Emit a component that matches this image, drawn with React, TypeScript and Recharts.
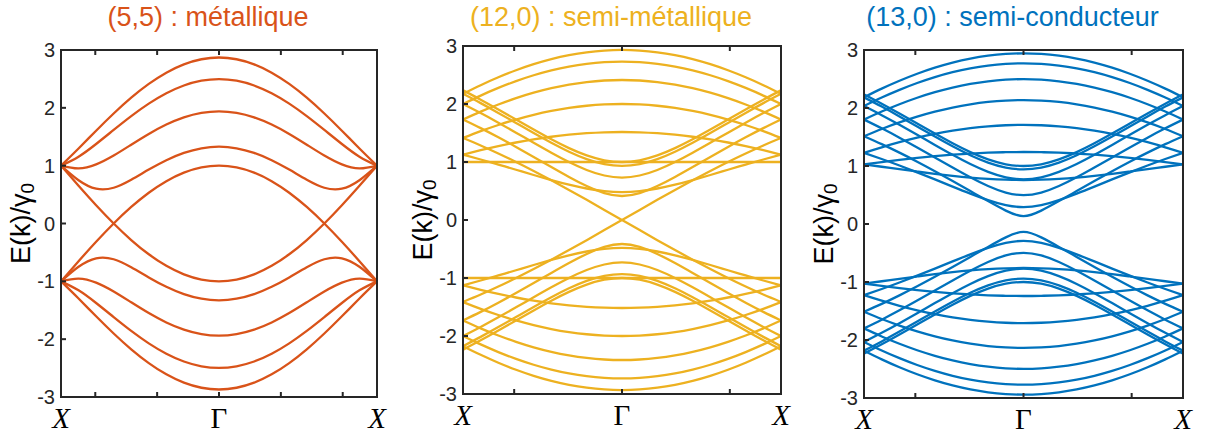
import { LineChart, Line, XAxis, YAxis } from 'recharts';

// k sampled from Γ (0) to the zone edge X, in 1/Å
const kArmchair = [0, 0.1419, 0.2838, 0.4257, 0.5676, 0.7095, 0.8514, 0.9933, 1.1352, 1.2771];
const kZigzag = [0, 0.0819, 0.1638, 0.2458, 0.3277, 0.4096, 0.4915, 0.5734, 0.6554, 0.7373];

const armchairTicks = [-1, -0.5, 0, 0.5, 1];
const zigzagTicks = [-0.5, 0, 0.5];
const energyTicks = [-3, -2, -1, 0, 1, 2, 3];

const edgeLabel = 'X';
const centerLabel = 'Γ';

// (5,5) conduction bands E/γ0, Γ -> X (valence bands are the mirror image)
const bands55 = [
  [2.8699, 2.8401, 2.7519, 2.6082, 2.4137, 2.1755, 1.9021, 1.6046, 1.2971, 1],
  [2.4972, 2.4691, 2.3862, 2.2518, 2.0722, 1.8567, 1.618, 1.375, 1.1555, 1],
  [1.9401, 1.9136, 1.8359, 1.7116, 1.5493, 1.3631, 1.1756, 1.0224, 0.9518, 1],
  [1.3281, 1.3009, 1.2211, 1.0943, 0.9318, 0.7566, 0.618, 0.601, 0.7475, 1],
  [-1, -0.9696, -0.8794, -0.732, -0.532, -0.2856, 0, 0.316, 0.6528, 1],
];

// (12,0)
const bands120 = [
  [2.9318, 2.9218, 2.8918, 2.8422, 2.7734, 2.6862, 2.5815, 2.4604, 2.3244, 2.1753],
  [2.7321, 2.7224, 2.6935, 2.6458, 2.5794, 2.4953, 2.3942, 2.277, 2.1451, 2],
  [2.4142, 2.4053, 2.3786, 2.3344, 2.273, 2.195, 2.101, 1.9918, 1.8684, 1.7321],
  [2, 1.9924, 1.9696, 1.9319, 1.8794, 1.8126, 1.7321, 1.6383, 1.5321, 1.4142],
  [1.5176, 1.5125, 1.4969, 1.4712, 1.4356, 1.3905, 1.3362, 1.2736, 1.2032, 1.126],
  [1, 1, 1, 1, 1, 1, 1, 1, 1, 1],
  [0.4823, 0.4983, 0.5431, 0.6093, 0.6891, 0.7761, 0.8662, 0.9559, 1.0432, 1.126],
  [0, 0.1743, 0.3473, 0.5176, 0.684, 0.8452, 1, 1.1472, 1.2856, 1.4142],
  [0.4142, 0.4632, 0.585, 0.742, 0.9129, 1.0872, 1.2593, 1.4257, 1.584, 1.7321],
  [0.7321, 0.7672, 0.863, 1, 1.1604, 1.3317, 1.506, 1.6779, 1.8435, 2],
  [0.9319, 0.9629, 1.0495, 1.1773, 1.3314, 1.4995, 1.6734, 1.8468, 2.0153, 2.1753],
  [1, 1.03, 1.1141, 1.2394, 1.3914, 1.5585, 1.7321, 1.9058, 2.075, 2.2361],
];
// band that changes sign through Γ (the crossing at E = 0)
const odd120 = [7];

// (13,0)
const bands130 = [
  [2.9419, 2.9318, 2.9018, 2.8521, 2.7832, 2.6958, 2.5909, 2.4697, 2.3335, 2.1842],
  [2.7709, 2.7612, 2.7321, 2.6839, 2.6171, 2.5324, 2.4305, 2.3125, 2.1797, 2.0338],
  [2.497, 2.4879, 2.4606, 2.4154, 2.3526, 2.2728, 2.1767, 2.0652, 1.9393, 1.8003],
  [2.1361, 2.128, 2.1038, 2.0636, 2.0078, 1.9368, 1.8512, 1.7516, 1.6387, 1.5135],
  [1.7092, 1.7029, 1.684, 1.6527, 1.6092, 1.5539, 1.4874, 1.41, 1.3226, 1.226],
  [1.2411, 1.2381, 1.2293, 1.2148, 1.1948, 1.1697, 1.1398, 1.1059, 1.0686, 1.0286],
  [0.7589, 0.7637, 0.7778, 0.8003, 0.8299, 0.8649, 0.9039, 0.9451, 0.9871, 1.0286],
  [0.2909, 0.3257, 0.4124, 0.524, 0.6453, 0.769, 0.891, 1.0089, 1.121, 1.226],
  [0.1364, 0.2304, 0.3945, 0.5683, 0.7418, 0.9112, 1.0746, 1.2303, 1.377, 1.5135],
  [0.4971, 0.5409, 0.654, 0.8051, 0.9735, 1.1474, 1.3206, 1.489, 1.6496, 1.8003],
  [0.771, 0.8051, 0.8989, 1.0339, 1.1929, 1.3637, 1.5379, 1.7102, 1.8765, 2.0338],
  [0.9419, 0.9727, 1.0589, 1.1863, 1.34, 1.5081, 1.682, 1.8554, 2.024, 2.1842],
  [1, 1.03, 1.1141, 1.2394, 1.3914, 1.5585, 1.7321, 1.9058, 2.075, 2.2361],
];

const SANS = '"Liberation Sans", Arial, Helvetica, sans-serif';
const SERIF = '"Liberation Serif", "Times New Roman", serif';
const FRAME = '#262626';
const TICK_LEN = 5;
const GAP = 6;
const YW = 60;
const XH = 45;
const EDGE = 4;
const PAD_TOP = 16;
const PAD_RIGHT = 24;

type Row = Record<string, number>;

// full zone X -> Γ -> X, plus the mirrored valence bands
function buildRows(k: number[], bands: number[][], odd: number[] = []): Row[] {
  const n = k.length;
  const rows: Row[] = [];
  for (let s = -(n - 1); s <= n - 1; s++) {
    const j = Math.abs(s);
    const row: Row = { k: s < 0 ? -k[j] : k[j] };
    bands.forEach((b, i) => {
      const v = s < 0 && odd.includes(i) ? -b[j] : b[j];
      row[`c${i}`] = v;
      row[`v${i}`] = -v;
    });
    rows.push(row);
  }
  return rows;
}

function BottomTick(props: any) {
  const { x, y, payload, kmax } = props;
  const v = payload.value;
  const axisY = y - GAP;
  const edge = Math.abs(Math.abs(v) - kmax) < 1e-9;
  const label = edge ? edgeLabel : v === 0 ? centerLabel : '';
  return (
    <g>
      {!edge && <line x1={x} x2={x} y1={axisY} y2={axisY - TICK_LEN} stroke={FRAME} strokeWidth={2} />}
      {label && (
        <text x={x} y={axisY + 31} textAnchor="middle" fontFamily={SERIF} fontSize={29}
          fontStyle={edge ? 'italic' : 'normal'} fill="#000">
          {label}
        </text>
      )}
    </g>
  );
}

function TopTick(props: any) {
  const { x, y } = props;
  const axisY = y + GAP;
  return <line x1={x} x2={x} y1={axisY} y2={axisY + TICK_LEN} stroke={FRAME} strokeWidth={2} />;
}

function LeftTick(props: any) {
  const { x, y, payload } = props;
  const axisX = x + GAP;
  return (
    <g>
      <line x1={axisX} x2={axisX + TICK_LEN} y1={y} y2={y} stroke={FRAME} strokeWidth={2} />
      <text x={x} y={y} textAnchor="end" dominantBaseline="central" fontFamily={SANS} fontSize={20} fill="#262626">
        {payload.value}
      </text>
    </g>
  );
}

function RightTick(props: any) {
  const { x, y } = props;
  const axisX = x - GAP;
  return <line x1={axisX} x2={axisX - TICK_LEN} y1={y} y2={y} stroke={FRAME} strokeWidth={2} />;
}

interface PanelProps {
  title: string;
  color: string;
  k: number[];
  bands: number[][];
  odd?: number[];
  ticks: number[];
  left: number;
  top: number;
  width: number;
  height: number;
}

const axisStyle = { stroke: FRAME, strokeWidth: 2, strokeLinecap: 'square' as const };

function Panel({ title, color, k, bands, odd = [], ticks, left, top, width, height }: PanelProps) {
  const kmax = k[k.length - 1];
  const rows = buildRows(k, bands, odd);
  const xTicks = [-kmax, ...ticks, kmax];
  const labelX = YW - 40;
  const labelY = PAD_TOP + EDGE + height / 2;

  return (
    <>
      <div
        style={{
          position: 'absolute', left: left - 211, width: width + 400, top: 4,
          textAlign: 'center', fontFamily: SANS, fontSize: 27, lineHeight: '27px', color,
        }}
      >
        {title}
      </div>
      <div style={{ position: 'absolute', left: left - YW, top: top - EDGE - PAD_TOP }}>
        <LineChart width={YW + width + EDGE + PAD_RIGHT} height={PAD_TOP + EDGE + height + XH} data={rows}
          margin={{ top: PAD_TOP, right: PAD_RIGHT, bottom: 0, left: 0 }}>
          <XAxis type="number" dataKey="k" domain={[-kmax, kmax]} ticks={xTicks} interval={0}
            height={XH} tickSize={0} tickMargin={GAP} tickLine={false} axisLine={axisStyle}
            tick={(p: any) => <BottomTick {...p} kmax={kmax} />} />
          <XAxis xAxisId="top" orientation="top" type="number" dataKey="k" domain={[-kmax, kmax]}
            ticks={ticks} interval={0} height={EDGE} tickSize={0} tickMargin={GAP} tickLine={false}
            axisLine={axisStyle} tick={(p: any) => <TopTick {...p} />} />
          <YAxis type="number" domain={[-3, 3]} ticks={energyTicks} interval={0} width={YW}
            tickSize={0} tickMargin={GAP} tickLine={false} axisLine={axisStyle}
            tick={(p: any) => <LeftTick {...p} />}
            label={{
              content: () => (
                <text x={labelX} y={labelY} transform={`rotate(-90 ${labelX} ${labelY})`}
                  textAnchor="middle" dominantBaseline="central" fontFamily={SANS} fontSize={27} fill="#000">
                  E(k)/γ<tspan fontSize={19} dy={6}>0</tspan>
                </text>
              ),
            }} />
          <YAxis yAxisId="right" orientation="right" type="number" domain={[-3, 3]} ticks={energyTicks}
            interval={0} width={EDGE} tickSize={0} tickMargin={GAP} tickLine={false} axisLine={axisStyle}
            tick={(p: any) => <RightTick {...p} />} />
          {bands.map((_, i) => (
            <Line key={`c${i}`} type="natural" dataKey={`c${i}`} stroke={color} strokeWidth={2.3}
              dot={false} activeDot={false} isAnimationActive={false} />
          ))}
          {bands.map((_, i) => (
            <Line key={`v${i}`} type="natural" dataKey={`v${i}`} stroke={color} strokeWidth={2.3}
              dot={false} activeDot={false} isAnimationActive={false} />
          ))}
        </LineChart>
      </div>
    </>
  );
}

export default function App() {
  return (
    <div style={{ position: 'absolute', left: 0, top: 0, width: 1210, height: 437, background: '#fff', overflow: 'hidden' }}>
      <Panel title="(5,5) : métallique" color="#D95319" k={kArmchair} bands={bands55}
        ticks={armchairTicks} left={61} top={50} width={316} height={347} />
      <Panel title="(12,0) : semi-métallique" color="#EDB120" k={kZigzag} bands={bands120} odd={odd120}
        ticks={zigzagTicks} left={463} top={46} width={318} height={348} />
      <Panel title="(13,0) : semi-conducteur" color="#0072BD" k={kZigzag} bands={bands130}
        ticks={zigzagTicks} left={864} top={50} width={319} height={348} />
    </div>
  );
}
